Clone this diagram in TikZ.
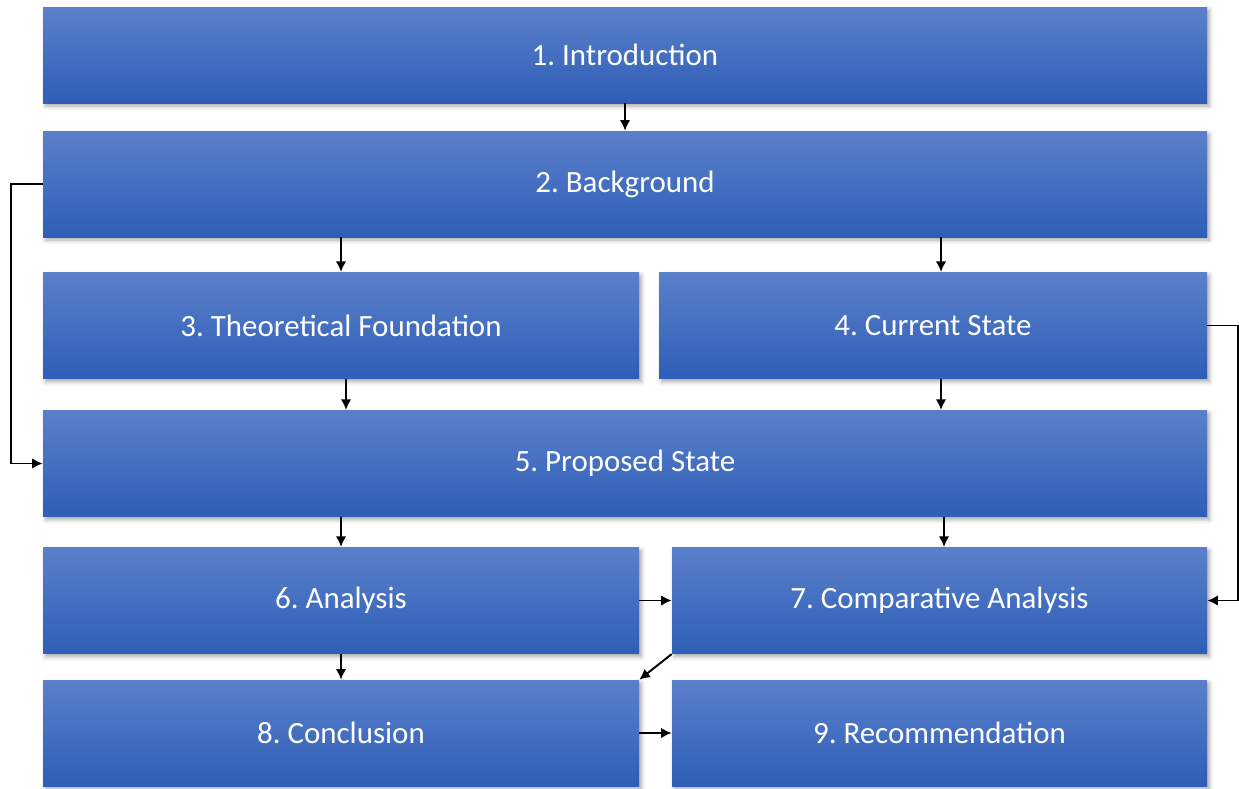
\documentclass[tikz,border=0pt]{standalone}
\usepackage{fontspec}
\setmainfont{Carlito}
\usetikzlibrary{arrows.meta,shadows.blur}

\definecolor{boxtop}{HTML}{5B80CA}
\definecolor{boxmid}{HTML}{4271CB}
\definecolor{boxbottom}{HTML}{2E5EB7}

\tikzset{
	secbox/.style={rectangle, top color=boxtop, middle color=boxmid, bottom color=boxbottom,
		blur shadow={shadow xshift=0.05cm, shadow yshift=-0.06cm, shadow blur radius=0.08cm, shadow opacity=35},
		text=white, font=\fontsize{17.6}{21}\selectfont, inner sep=0pt, minimum height=2.13cm},
	flow/.style={-{Latex[length=6pt, width=6pt]}, line width=1.1pt}
}

\begin{document}
\frenchspacing
\begin{tikzpicture}
		\useasboundingbox (0,0) rectangle (24.78,-15.76);

		\node[secbox, minimum width=23.28cm, minimum height=1.92cm] (intro) at (12.5,-1.10) {1. Introduction};
		\node[secbox, minimum width=23.28cm, minimum height=2.12cm] (bg) at (12.5,-3.68) {2. Background};
		\node[secbox, minimum width=11.92cm] (theo) at (6.82,-6.51) {3. Theoretical Foundation};
		\node[secbox, minimum width=10.96cm] (cur) at (18.66,-6.51) {4. Current State};
		\node[secbox, minimum width=23.28cm] (prop) at (12.5,-9.27) {5. Proposed State};
		\node[secbox, minimum width=11.92cm] (ana) at (6.82,-12.01) {6. Analysis};
		\node[secbox, minimum width=10.70cm] (cmp) at (18.79,-12.01) {7. Comparative Analysis};
		\node[secbox, minimum width=11.92cm, minimum height=2.12cm] (concl) at (6.82,-14.66) {8. Conclusion};
		\node[secbox, minimum width=10.70cm, minimum height=2.12cm] (rec) at (18.79,-14.66) {9. Recommendation};

		% senkrechte Verbindungen
		\draw[flow] (intro.south) -- (bg.north);
		\draw[flow] (bg.south -| theo.north) -- (theo.north);
		\draw[flow] ([xshift=0.16cm]bg.south -| cur.north) -- ([xshift=0.16cm]cur.north);
		\draw[flow] ([xshift=0.1cm]theo.south) -- ([xshift=0.1cm]theo.south |- prop.north);
		\draw[flow] ([xshift=0.16cm]cur.south) -- ([xshift=0.16cm]cur.south |- prop.north);
		\draw[flow] (prop.south -| ana.north) -- (ana.north);
		\draw[flow] ([xshift=0.09cm]prop.south -| cmp.north) -- ([xshift=0.09cm]cmp.north);
		\draw[flow] (ana.south) -- (concl.north);

		% waagrechte und schraege Verbindungen
		\draw[flow] (ana.east) -- (cmp.west);
		\draw[flow] (cmp.south west) -- (concl.north east);
		\draw[flow] (concl.east) -- (rec.west);

		% Rueckfuehrungen aussen
		\draw[flow] (bg.west) -- ++(-0.64,0) |- (prop.west);
		\draw[flow] (cur.east) -- ++(0.62,0) |- (cmp.east);
	\end{tikzpicture}
\end{document}
